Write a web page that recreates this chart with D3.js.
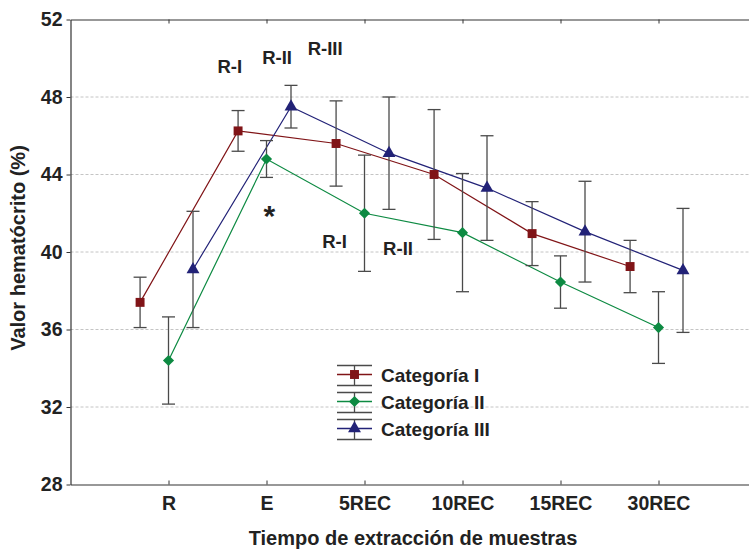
<!DOCTYPE html>
<html>
<head>
<meta charset="utf-8">
<script src="https://cdn.jsdelivr.net/npm/d3@7"></script>
<style>
  html, body { margin: 0; padding: 0; background: #fff; }
  svg { display: block; font-family: "Liberation Sans", Arial, sans-serif; }
</style>
</head>
<body>
<svg id="chart" width="749" height="551"></svg>
<script>
// ---- data ----
const categories = ["R", "E", "5REC", "10REC", "15REC", "30REC"];
const yTicks = [28, 32, 36, 40, 44, 48, 52];
const gridValues = [32, 36, 40, 44, 48];

const seriesNames = ["Categoría I", "Categoría II", "Categoría III"];
const meanI   = [37.4, 46.25, 45.6, 44.0, 40.95, 39.25];
const errI    = [1.3, 1.05, 2.2, 3.35, 1.65, 1.35];
const meanII  = [34.4, 44.8, 42.0, 41.0, 38.45, 36.1];
const errII   = [2.25, 0.95, 3.0, 3.05, 1.35, 1.85];
const meanIII = [39.1, 47.5, 45.1, 43.3, 41.05, 39.05];
const errIII  = [3.0, 1.1, 2.9, 2.7, 2.6, 3.2];

const annotations = [
  { text: "R-I",   x: 0.50, y: 49.25 },
  { text: "R-II",  x: 0.956, y: 49.69 },
  { text: "R-III", x: 1.42, y: 50.17 },
  { text: "R-I",   x: 1.568, y: 40.19 },
  { text: "R-II",  x: 2.19, y: 39.85 }
];
const star = { text: "*", x: 1.03, y: 41.35 };

// ---- styles ----
const colors = ["#801417", "#0d8a42", "#222277"];
const offsets = [-0.29, 0, 0.25];
const textColor = "#222";

const svg = d3.select("#chart");
const x = d3.scaleLinear().domain([-1, 6]).range([70.5, 756.5]);
const y = d3.scaleLinear().domain([28, 52]).range([484.5, 19.5]);

// gridlines
svg.append("g").selectAll("line").data(gridValues).join("line")
  .attr("x1", x(-1)).attr("x2", 749)
  .attr("y1", d => y(d)).attr("y2", d => y(d))
  .attr("stroke", "#c4c4c4").attr("stroke-width", 1)
  .attr("stroke-dasharray", "3,2");

// axes
const axisStyle = g => {
  g.select(".domain").attr("stroke", "#333").attr("stroke-width", 1.2);
  g.selectAll(".tick line").attr("stroke", "#333");
  g.selectAll(".tick text").attr("fill", textColor)
    .style("font-size", "19.5px").style("font-weight", "bold")
    .style("font-family", "'Liberation Sans', Arial, sans-serif");
};

svg.append("g").attr("transform", `translate(0,${y(28)})`)
  .call(d3.axisBottom(x).tickValues(d3.range(categories.length))
    .tickFormat(i => categories[i]).tickSizeInner(-4).tickSizeOuter(0).tickPadding(12))
  .call(axisStyle);

svg.append("g").attr("transform", `translate(0,${y(52)})`)
  .call(d3.axisTop(x).tickValues(d3.range(categories.length))
    .tickFormat("").tickSizeInner(-4).tickSizeOuter(0))
  .call(axisStyle);

svg.append("g").attr("transform", `translate(${x(-1)},0)`)
  .call(d3.axisLeft(y).tickValues(yTicks).tickSizeInner(4).tickSizeOuter(0).tickPadding(4))
  .call(axisStyle);

// axis titles
svg.append("text")
  .attr("x", 413).attr("y", 545)
  .attr("text-anchor", "middle")
  .attr("fill", textColor)
  .style("font-size", "20px").style("font-weight", "bold")
  .text("Tiempo de extracción de muestras");

svg.append("text")
  .attr("transform", "translate(25,248) rotate(-90)")
  .attr("text-anchor", "middle")
  .attr("fill", textColor)
  .style("font-size", "20px").style("font-weight", "bold")
  .text("Valor hematócrito (%)");

// series
const means = [meanI, meanII, meanIII];
const errs = [errI, errII, errIII];
const series = means.map((m, s) => m.map((v, i) => ({ s, i, v, e: errs[s][i], xi: i + offsets[s] })));

const line = d3.line().x(d => x(d.xi)).y(d => y(d.v));
svg.append("g").selectAll("path").data(series).join("path")
  .attr("d", line).attr("fill", "none")
  .attr("stroke", (d, s) => colors[s]).attr("stroke-width", 1.2);

// error bars
const capW = 6.5;
const eb = svg.append("g").attr("stroke", "#4a4a4a").attr("stroke-width", 1.3);
series.flat().forEach(d => {
  const cx = x(d.xi);
  eb.append("line").attr("x1", cx).attr("x2", cx).attr("y1", y(d.v + d.e)).attr("y2", y(d.v - d.e));
  eb.append("line").attr("x1", cx - capW).attr("x2", cx + capW).attr("y1", y(d.v + d.e)).attr("y2", y(d.v + d.e));
  eb.append("line").attr("x1", cx - capW).attr("x2", cx + capW).attr("y1", y(d.v - d.e)).attr("y2", y(d.v - d.e));
});

// markers
const symbols = [
  d3.symbol().type(d3.symbolSquare).size(80),
  d3.symbol().type(d3.symbolSquare).size(62),
  d3.symbol().type(d3.symbolTriangle).size(72)
];
const rot = [0, 45, 0];
svg.append("g").selectAll("path").data(series.flat()).join("path")
  .attr("transform", d => `translate(${x(d.xi)},${y(d.v)}) rotate(${rot[d.s]})`)
  .attr("d", d => symbols[d.s]())
  .attr("fill", d => colors[d.s]);

// annotations
svg.append("g").selectAll("text").data(annotations).join("text")
  .attr("x", d => x(d.x)).attr("y", d => y(d.y))
  .attr("fill", textColor)
  .style("font-size", "18.5px").style("font-weight", "bold")
  .text(d => d.text);

svg.append("text")
  .attr("x", x(star.x)).attr("y", y(star.y))
  .attr("text-anchor", "middle")
  .attr("fill", textColor)
  .style("font-size", "30px").style("font-weight", "bold")
  .text(star.text);

// legend
const legend = svg.append("g").attr("transform", "translate(337,374.5)");
seriesNames.forEach((name, s) => {
  const g = legend.append("g").attr("transform", `translate(0,${s * 27})`);
  g.append("line").attr("x1", 0).attr("x2", 35).attr("y1", -9).attr("y2", -9).attr("stroke", "#4a4a4a").attr("stroke-width", 1.3);
  g.append("line").attr("x1", 0).attr("x2", 35).attr("y1", 11).attr("y2", 11).attr("stroke", "#4a4a4a").attr("stroke-width", 1.3);
  g.append("line").attr("x1", 17.5).attr("x2", 17.5).attr("y1", -9).attr("y2", 11).attr("stroke", "#4a4a4a").attr("stroke-width", 1.3);
  g.append("line").attr("x1", 0).attr("x2", 35).attr("y1", 0).attr("y2", 0).attr("stroke", colors[s]).attr("stroke-width", 1.4);
  g.append("path").attr("transform", `translate(17.5,0) rotate(${rot[s]})`).attr("d", symbols[s]()).attr("fill", colors[s]);
  g.append("text").attr("x", 44).attr("y", 7).attr("fill", textColor)
    .style("font-size", "19px").style("font-weight", "bold").text(name);
});
</script>
</body>
</html>
